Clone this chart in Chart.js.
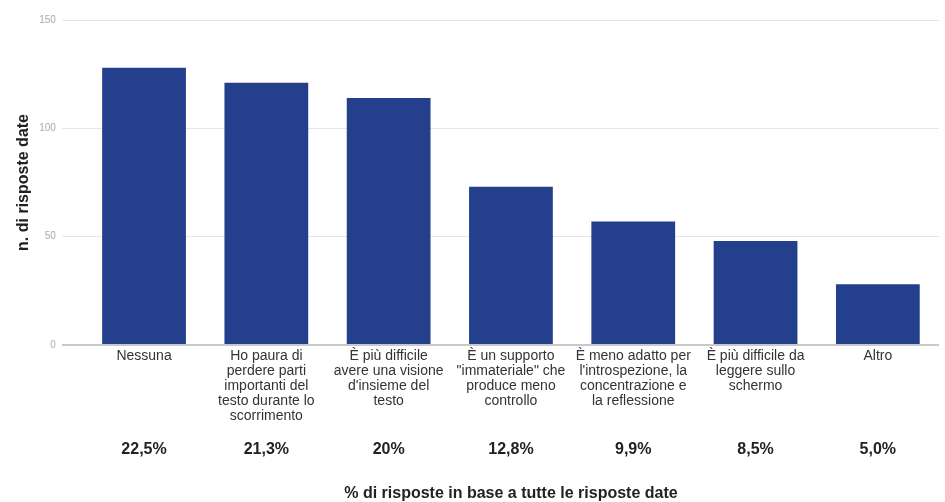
<!DOCTYPE html>
<html lang="it">
<head>
<meta charset="utf-8">
<title>Risposte</title>
<script src="https://cdn.jsdelivr.net/npm/chart.js@4/dist/chart.umd.min.js"></script>
<style>
    html, body { margin: 0; padding: 0; background: #fff; }
    #wrap { width: 945px; height: 502px; }
</style>
</head>
<body>
<div id="wrap"><canvas id="risposteChart"></canvas></div>
<script>
// Categories (multi-line labels)
const categories = [
    ['Nessuna'],
    ['Ho paura di', 'perdere parti', 'importanti del', 'testo durante lo', 'scorrimento'],
    ['È più difficile', 'avere una visione', "d'insieme del", 'testo'],
    ['È un supporto', '"immateriale" che', 'produce meno', 'controllo'],
    ['È meno adatto per', "l'introspezione, la", 'concentrazione e', 'la reflessione'],
    ['È più difficile da', 'leggere sullo', 'schermo'],
    ['Altro']
];

// Number of answers per category
const counts = [128, 121, 114, 73, 57, 48, 28];

// Share of all answers
const percents = ['22,5%', '21,3%', '20%', '12,8%', '9,9%', '8,5%', '5,0%'];

const yTicks = [0, 50, 100, 150];

const font = 'Arial, "Liberation Sans", Helvetica, sans-serif';

new Chart(document.getElementById('risposteChart'), {
    type: 'bar',
    data: {
        labels: categories,
        datasets: [{
            data: counts,
            backgroundColor: '#24408c',
            borderWidth: 0,
            categoryPercentage: 1,
            barPercentage: 0.685
        }]
    },
    options: {
        responsive: true,
        maintainAspectRatio: false,
        animation: false,
        layout: { padding: { top: 20, left: 14, right: 6, bottom: 0 } },
        plugins: {
            legend: { display: false },
            tooltip: { enabled: false }
        },
        scales: {
            x: {
                position: 'bottom',
                weight: 0,
                grid: { display: false, drawTicks: false },
                border: { display: false },
                ticks: {
                    padding: 4,
                    maxRotation: 0,
                    autoSkip: false,
                    color: '#333',
                    font: { family: font, size: 14, lineHeight: 1.07 }
                }
            },
            x2: {
                type: 'category',
                labels: percents,
                position: 'bottom',
                weight: 1,
                grid: { display: false, drawTicks: false },
                border: { display: false },
                ticks: {
                    padding: 12,
                    maxRotation: 0,
                    autoSkip: false,
                    color: '#222',
                    font: { family: font, size: 16, weight: 'bold' }
                },
                title: {
                    display: true,
                    text: '% di risposte in base a tutte le risposte date',
                    color: '#222',
                    padding: { top: 15, bottom: 0 },
                    font: { family: font, size: 16, weight: 'bold', lineHeight: 1 }
                }
            },
            y: {
                min: 0,
                max: 150,
                afterBuildTicks: axis => { axis.ticks = yTicks.map(v => ({ value: v })); },
                border: { display: false },
                grid: {
                    color: ctx => ctx.tick && ctx.tick.value === 0 ? '#c8c8c8' : '#e6e6e6',
                    lineWidth: ctx => ctx.tick && ctx.tick.value === 0 ? 2 : 1,
                    tickLength: 21
                },
                ticks: {
                    padding: 6,
                    color: '#aaa',
                    font: { family: font, size: 10 }
                },
                title: {
                    display: true,
                    text: 'n. di risposte date',
                    color: '#222',
                    padding: { top: 0, bottom: 0 },
                    font: { family: font, size: 16, weight: 'bold' }
                }
            }
        }
    }
});
</script>
</body>
</html>
